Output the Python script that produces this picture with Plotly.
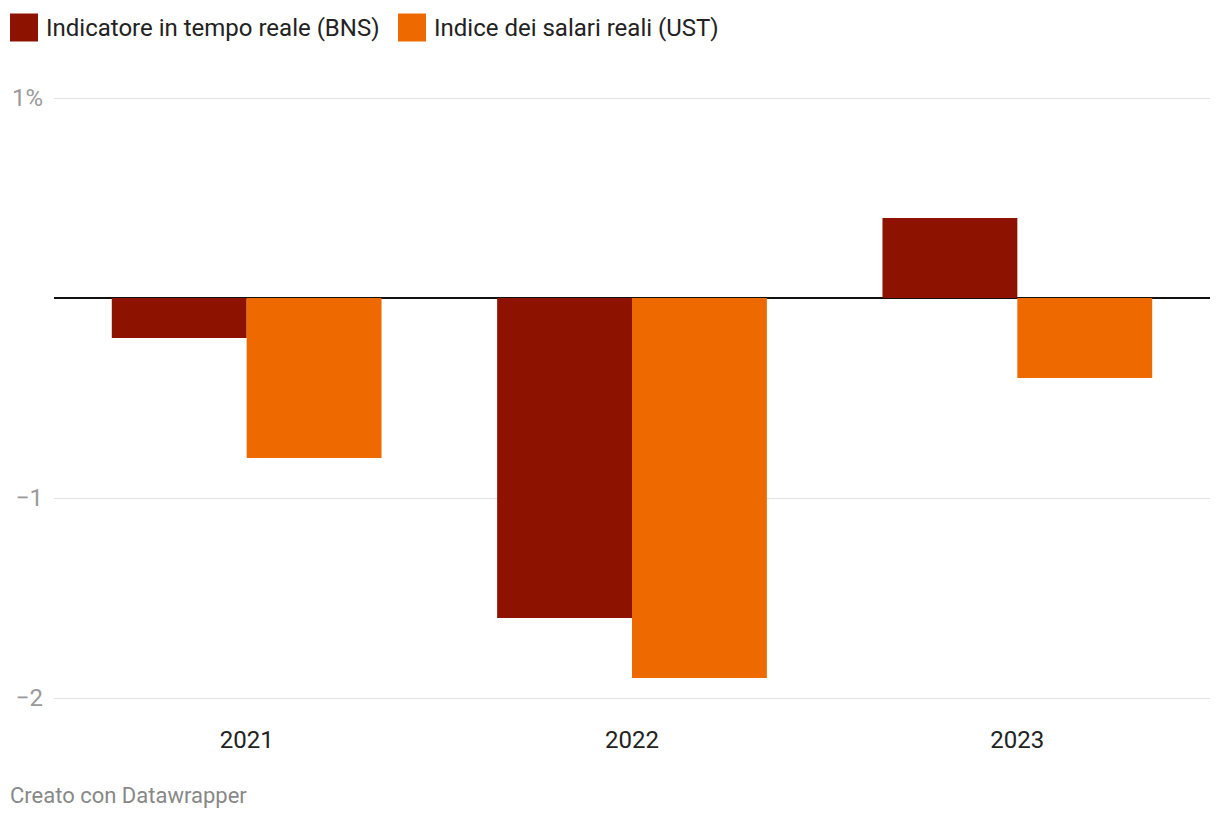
import plotly.graph_objects as go

years = ["2021", "2022", "2023"]
bns = [-0.2, -1.6, 0.4]
ust = [-0.8, -1.9, -0.4]
series_names = ["Indicatore in tempo reale (BNS)", "Indice dei salari reali (UST)"]
colors = ["#8e1200", "#ee6a00"]
tick_vals = [-2, -1, 1]
tick_text = ["\u22122", "\u22121", "1%"]

OFF = 8  # page body offset
W, H = 1220, 820
L, R, T, B = 46, 18, 86, 126
PW, PH = W - L - R, H - T - B

def px(x):  # page pixel -> paper
    return (x - OFF - L) / PW

def py(y):
    return (H - B - (y - OFF)) / PH

fig = go.Figure()
fig.add_trace(go.Bar(x=years, y=bns, name=series_names[0], marker=dict(color=colors[0], line=dict(width=0))))
fig.add_trace(go.Bar(x=years, y=ust, name=series_names[1], marker=dict(color=colors[1], line=dict(width=0))))

fig.update_layout(
    width=W, height=H,
    margin=dict(l=L, r=R, t=T, b=B, autoexpand=False),
    paper_bgcolor="white", plot_bgcolor="white",
    barmode="group", bargap=0.3, bargroupgap=0,
    showlegend=False,
    font=dict(family="Roboto", color="#333333"),
    xaxis=dict(
        type="category", range=[-0.5, 2.5], automargin=False,
        showgrid=False, showline=False, ticks="",
        tickfont=dict(size=24, color="#222222"),
        ticklabelstandoff=21,
    ),
    yaxis=dict(
        range=[-2.02, 1.02], automargin=False,
        tickvals=tick_vals, ticktext=tick_text,
        showgrid=True, gridcolor="#e3e3e3", gridwidth=1,
        zeroline=True, zerolinecolor="#111111", zerolinewidth=1.6,
        showline=False, ticks="",
        tickfont=dict(size=24, color="#9a9a9a"),
        ticklabelstandoff=10,
    ),
)

leg_items = [(10, 44), (398, 432)]
for (sx, tx), name, col in zip(leg_items, series_names, colors):
    fig.add_shape(type="rect", xref="paper", yref="paper",
                  x0=px(sx), x1=px(sx + 28), y0=py(41.5), y1=py(13.5),
                  fillcolor=col, line=dict(width=0), layer="above")
    fig.add_annotation(xref="paper", yref="paper", x=px(tx), y=py(27.5),
                       xanchor="left", yanchor="middle", showarrow=False,
                       text=name, font=dict(family="Roboto", size=24, color="#222222"))

fig.add_annotation(xref="paper", yref="paper", x=px(8), y=py(795),
                   xanchor="left", yanchor="middle", showarrow=False,
                   text="Creato con Datawrapper",
                   font=dict(family="Roboto", size=22, color="#888888"))

fig.write_html("out.html")
